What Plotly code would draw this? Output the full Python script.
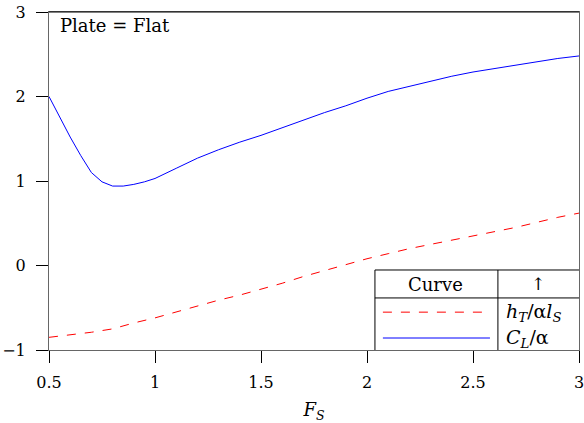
import plotly.graph_objects as go

fs_blue = [0.5, 0.55, 0.6, 0.65, 0.7, 0.75, 0.8, 0.85, 0.9, 0.95, 1.0, 1.1, 1.2, 1.3, 1.4, 1.5,
           1.6, 1.7, 1.8, 1.9, 2.0, 2.1, 2.2, 2.3, 2.4, 2.5, 2.6, 2.7, 2.8, 2.9, 3.0]
cl_alpha = [2.0, 1.76, 1.52, 1.30, 1.10, 0.99, 0.94, 0.94, 0.96, 0.99, 1.03, 1.15, 1.27, 1.37, 1.46, 1.54,
            1.63, 1.72, 1.81, 1.89, 1.98, 2.06, 2.12, 2.18, 2.24, 2.29, 2.33, 2.37, 2.41, 2.45, 2.48]

fs_red = [0.5, 0.6, 0.7, 0.8, 0.9, 1.0, 1.1, 1.2, 1.3, 1.4, 1.5, 1.6, 1.7, 1.8, 1.9, 2.0,
          2.1, 2.2, 2.3, 2.4, 2.5, 2.6, 2.7, 2.8, 2.9, 3.0]
ht_alpha_ls = [-0.85, -0.82, -0.79, -0.75, -0.68, -0.62, -0.55, -0.48, -0.41, -0.35, -0.28, -0.21, -0.13, -0.06, 0.01, 0.08,
               0.14, 0.20, 0.25, 0.30, 0.35, 0.40, 0.45, 0.51, 0.57, 0.62]

x_ticks = [0.5, 1, 1.5, 2, 2.5, 3]
x_ticklabels = ["0.5", "1", "1.5", "2", "2.5", "3"]
y_ticks = [-1, 0, 1, 2, 3]
y_ticklabels = ["\u22121", "0", "1", "2", "3"]

FONT = "DejaVu Serif, Liberation Serif, serif"

fig = go.Figure()
fig.add_trace(go.Scatter(x=fs_red, y=ht_alpha_ls, mode="lines",
                         line=dict(color="red", width=1, dash="dash"), showlegend=False))
fig.add_trace(go.Scatter(x=fs_blue, y=cl_alpha, mode="lines",
                         line=dict(color="blue", width=1), showlegend=False))

# legend table (paper coords)
lx0, lxd, lx1 = 0.615, 0.847, 1.0
ly_top, ly_hdr = 0.2367, 0.154
shapes = [
    dict(type="line", xref="paper", yref="paper", x0=lx0, x1=lx1, y0=ly_top, y1=ly_top, line=dict(color="black", width=1)),
    dict(type="line", xref="paper", yref="paper", x0=lx0, x1=lx1, y0=ly_hdr, y1=ly_hdr, line=dict(color="black", width=1)),
    dict(type="line", xref="paper", yref="paper", x0=lx0, x1=lx0, y0=0, y1=ly_top, line=dict(color="black", width=1)),
    dict(type="line", xref="paper", yref="paper", x0=lxd, x1=lxd, y0=0, y1=ly_top, line=dict(color="black", width=1)),
    dict(type="line", xref="paper", yref="paper", x0=0.630, x1=0.832, y0=0.112, y1=0.112, line=dict(color="red", width=1, dash="dash")),
    dict(type="line", xref="paper", yref="paper", x0=0.630, x1=0.832, y0=0.0355, y1=0.0355, line=dict(color="blue", width=1)),
    dict(type="line", xref="paper", yref="paper", x0=0, x1=1, y0=1, y1=1, line=dict(color="black", width=1)),
]
annotations = [
    dict(text="Curve", xref="paper", yref="paper", x=0.730, y=0.195, xanchor="center", yanchor="middle", showarrow=False,
         font=dict(family=FONT, size=18, color="black")),
    dict(text="\u2191", xref="paper", yref="paper", x=0.923, y=0.195, xanchor="center", yanchor="middle", showarrow=False,
         font=dict(family=FONT, size=17, color="black")),
    dict(text="<i>h</i><sub><i>T</i></sub>/\u03b1<i>l</i><sub><i>S</i></sub>", xref="paper", yref="paper",
         x=0.858, y=0.112, xanchor="left", yanchor="middle", showarrow=False, font=dict(family=FONT, size=19, color="black")),
    dict(text="<i>C</i><sub><i>L</i></sub>/\u03b1", xref="paper", yref="paper",
         x=0.858, y=0.0355, xanchor="left", yanchor="middle", showarrow=False, font=dict(family=FONT, size=19, color="black")),
    dict(text="Plate = Flat", xref="paper", yref="paper", x=0.017, y=0.9615, xanchor="left", yanchor="middle",
         showarrow=False, font=dict(family=FONT, size=18, color="black")),
]

fig.update_layout(
    width=584, height=423,
    margin=dict(l=49, r=5, t=12, b=73, autoexpand=False),
    paper_bgcolor="white", plot_bgcolor="white",
    font=dict(family=FONT, size=16, color="black"),
    shapes=shapes, annotations=annotations,
    xaxis=dict(range=[0.5, 3], tickvals=x_ticks, ticktext=x_ticklabels, showgrid=False, zeroline=False,
               showline=True, linecolor="#666", linewidth=1, mirror=True, automargin=False,
               ticks="outside", ticklen=12, tickcolor="black", ticklabelstandoff=6,
               ticklabeloverflow="allow",
               tickfont=dict(family=FONT, size=16),
               title=dict(text="<i>F</i><sub><i>S</i></sub>", font=dict(family=FONT, size=18), standoff=14)),
    yaxis=dict(range=[-1, 3], tickvals=y_ticks, ticktext=y_ticklabels, showgrid=False, zeroline=False,
               showline=True, linecolor="#666", linewidth=1, mirror=True, automargin=False,
               ticks="outside", ticklen=12, tickcolor="black", ticklabelstandoff=7,
               ticklabeloverflow="allow",
               tickfont=dict(family=FONT, size=16)),
)

fig.write_html("out.html")
